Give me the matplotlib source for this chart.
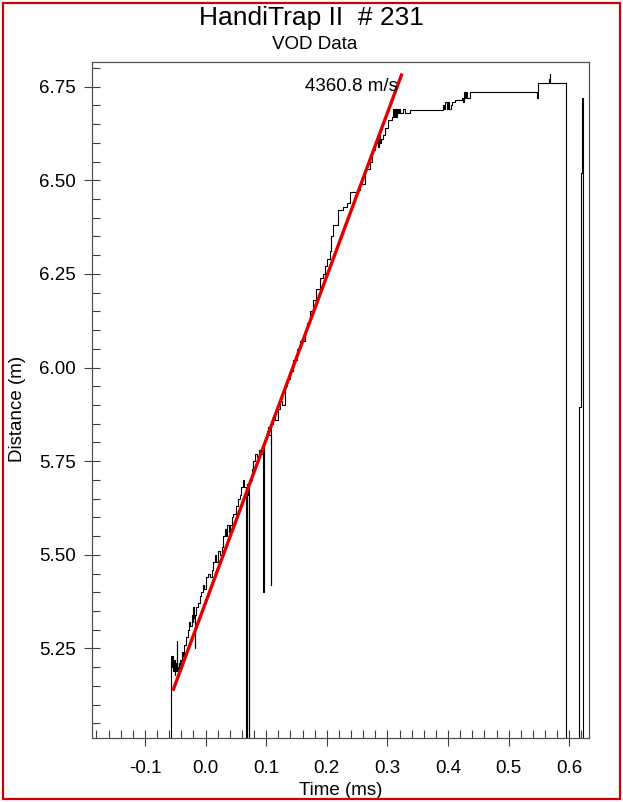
import matplotlib.pyplot as plt
from matplotlib.patches import Rectangle
from matplotlib.ticker import MultipleLocator

plt.rcParams['font.family'] = ['Liberation Sans', 'DejaVu Sans']

# probe trace (time in ms, distance in m)
trace_time = [
    -0.0580, -0.0573, -0.0560, -0.0548, -0.0536, -0.0524, -0.0512, -0.0500,
    -0.0488, -0.0476, -0.0470, -0.0458, -0.0446, -0.0434, -0.0420, -0.0405,
    -0.0390, -0.0375, -0.0350, -0.0320, -0.0292, -0.0270, -0.0250, -0.0231,
    -0.0215, -0.0200, -0.0185, -0.0177, -0.0170, -0.0150, -0.0120, -0.0094,
    -0.0070, -0.0045, -0.0020, 0.0010, 0.0040, 0.0070, 0.0099, 0.0130,
    0.0153, 0.0175, 0.0200, 0.0230, 0.0264, 0.0290, 0.0318, 0.0340,
    0.0360, 0.0380, 0.0401, 0.0429, 0.0460, 0.0500, 0.0533, 0.0560,
    0.0590, 0.0616, 0.0640, 0.0665, 0.0675, 0.0700, 0.0714, 0.0724,
    0.0759, 0.0790, 0.0814, 0.0850, 0.0880, 0.0910, 0.0940, 0.0950,
    0.0960, 0.0985, 0.1007, 0.1030, 0.1050, 0.1073, 0.1085, 0.1110,
    0.1140, 0.1193, 0.1226, 0.1260, 0.1309, 0.1350, 0.1400, 0.1446,
    0.1500, 0.1556, 0.1639, 0.1680, 0.1721, 0.1771, 0.1820, 0.1886,
    0.1930, 0.1969, 0.2010, 0.2051, 0.2075, 0.2101, 0.2183, 0.2260,
    0.2327, 0.2381, 0.2492, 0.2546, 0.2629, 0.2711, 0.2750, 0.2794,
    0.2820, 0.2840, 0.2860, 0.2876, 0.2900, 0.2930, 0.2959, 0.3010,
    0.3069, 0.3090, 0.3105, 0.3120, 0.3135, 0.3152, 0.3170, 0.3190,
    0.3210, 0.3250, 0.3290, 0.3371, 0.3916, 0.3935, 0.3955, 0.3975,
    0.3995, 0.4015, 0.4040, 0.4070, 0.4114, 0.4229, 0.4245, 0.4260,
    0.4280, 0.4300, 0.4320, 0.4361, 0.5462, 0.5475, 0.5665, 0.5675,
    0.5685, 0.5941, 0.6165, 0.6185, 0.6203, 0.6205, 0.6207, 0.6209,
    0.6211, 0.6230,
]
trace_dist = [
    4.95, 5.23, 5.20, 5.23, 5.19, 5.22, 5.18, 5.21,
    5.19, 5.27, 5.20, 5.18, 5.21, 5.19, 5.22, 5.20,
    5.24, 5.23, 5.26, 5.28, 5.30, 5.32, 5.31, 5.34,
    5.32, 5.36, 5.33, 5.25, 5.34, 5.36, 5.37, 5.39,
    5.40, 5.42, 5.41, 5.44, 5.45, 5.44, 5.46, 5.48,
    5.50, 5.48, 5.51, 5.50, 5.52, 5.55, 5.57, 5.55,
    5.58, 5.56, 5.58, 5.60, 5.61, 5.63, 5.65, 5.66,
    5.68, 5.70, 5.68, 4.95, 5.69, 5.66, 4.95, 5.70,
    5.73, 5.75, 5.77, 5.76, 5.78, 5.77, 5.79, 5.40,
    5.80, 5.81, 5.83, 5.84, 5.82, 5.42, 5.85, 5.87,
    5.86, 5.89, 5.91, 5.90, 5.95, 5.97, 5.99, 6.02,
    6.05, 6.07, 6.10, 6.12, 6.15, 6.18, 6.21, 6.24,
    6.25, 6.27, 6.29, 6.31, 6.35, 6.38, 6.42, 6.43,
    6.44, 6.47, 6.475, 6.49, 6.53, 6.55, 6.58, 6.60,
    6.61, 6.59, 6.62, 6.60, 6.61, 6.62, 6.64, 6.66,
    6.67, 6.69, 6.67, 6.69, 6.67, 6.69, 6.68, 6.69,
    6.68, 6.69, 6.68, 6.688, 6.70, 6.69, 6.71, 6.69,
    6.71, 6.69, 6.70, 6.71, 6.714, 6.72, 6.71, 6.735,
    6.72, 6.735, 6.72, 6.736, 6.72, 6.759, 6.77, 6.785,
    6.759, 4.95, 5.895, 6.52, 6.60, 6.54, 6.67, 6.56,
    6.72, 4.95,
]

# least-squares fit shown in red
fit_time = [-0.054, 0.324]
fit_dist = [5.137, 6.785]
vod = 4360.8

fig = plt.figure(figsize=(6.23, 8.02), dpi=100)
ax = fig.add_axes([0.148, 0.0794, 0.798, 0.8429])

ax.plot(trace_time, trace_dist, color='black', lw=0.8, drawstyle='steps-post')
ax.plot(fit_time, fit_dist, color='#e00000', lw=2.4, solid_capstyle='butt')
ax.text(0.24, 6.75, f'{vod:.1f} m/s', ha='center', va='center', fontsize=13.5)

ax.set_xlim(-0.187, 0.633)
ax.set_ylim(5.01, 6.815)

ax.xaxis.set_minor_locator(MultipleLocator(0.02))
ax.yaxis.set_minor_locator(MultipleLocator(0.05))
ax.set_xticks([-0.1, 0.0, 0.1, 0.2, 0.3, 0.4, 0.5, 0.6])
ax.set_xticklabels(['-0.1', '0.0', '0.1', '0.2', '0.3', '0.4', '0.5', '0.6'])
ax.set_yticks([5.25, 5.50, 5.75, 6.00, 6.25, 6.50, 6.75])
ax.set_yticklabels(['5.25', '5.50', '5.75', '6.00', '6.25', '6.50', '6.75'])

ax.tick_params(which='major', direction='inout', length=11, width=0.8,
               color='#404040', labelsize=13.5, pad=6)
ax.tick_params(which='minor', direction='in', length=5.5, width=0.8, color='#404040')
ax.tick_params(axis='x', which='major', pad=10)
for sp in ax.spines.values():
    sp.set_color('#505050')
    sp.set_linewidth(0.9)

ax.set_xlabel('Time (ms)', fontsize=13.5, labelpad=4)
ax.set_ylabel('Distance (m)', fontsize=13.5)
ax.yaxis.set_label_coords(-0.133, 0.487)

fig.text(0.5, 0.977, 'HandiTrap II  # 231', ha='center', va='center', fontsize=19)
fig.text(0.505, 0.945, 'VOD Data', ha='center', va='center', fontsize=13.5)

fig.patches.append(Rectangle((3 / 623, 3 / 802), 617 / 623, 796 / 802,
                             transform=fig.transFigure, fill=False,
                             ec='#d00000', lw=1.6))

fig.savefig('out.png', dpi=100)
